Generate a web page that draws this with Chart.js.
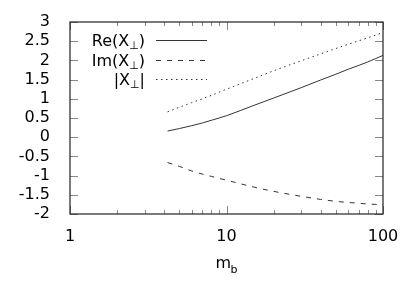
<!DOCTYPE html>
<html>
<head>
<meta charset="utf-8">
<script src="https://cdn.jsdelivr.net/npm/chart.js@4"></script>
<style>
  html, body { margin: 0; padding: 0; background: #fff; }
  #wrap { width: 415px; height: 296px; }
</style>
</head>
<body>
<div id="wrap"><canvas id="chart" width="415" height="296"></canvas></div>
<script>
// m_b values and the three curves
const mb = [4.2, 5, 6, 7, 8, 10, 15, 20, 30, 40, 50, 60, 70, 80, 90, 100];
const reX = [0.16, 0.225, 0.30, 0.37, 0.44, 0.56, 0.83, 1.02, 1.29, 1.49, 1.64, 1.77, 1.87, 1.96, 2.05, 2.13];
const imX = [-0.66, -0.76, -0.88, -0.96, -1.02, -1.12, -1.30, -1.41, -1.54, -1.62, -1.67, -1.70, -1.72, -1.74, -1.75, -1.76];
const absX = [0.66, 0.78, 0.90, 1.00, 1.09, 1.25, 1.53, 1.73, 1.99, 2.17, 2.31, 2.42, 2.51, 2.59, 2.66, 2.73];

const xTickLabels = [1, 10, 100];
const yTicks = [-2, -1.5, -1, -0.5, 0, 0.5, 1, 1.5, 2, 2.5, 3];

const FONT = 'DejaVu Sans';
const lineColor = '#333';

// legend labels split as [before, subscript, after]
const series = [
    { label: ['Re(X', '\u22A5', ')'], values: reX, dash: [] },
    { label: ['Im(X', '\u22A5', ')'], values: imX, dash: [5, 6] },
    { label: ['|X', '\u22A5', '|'], values: absX, dash: [1.5, 3.5] }
];

const toPoints = vals => mb.map((m, i) => ({ x: m, y: vals[i] }));

// border, inward tick marks, legend and axis title, gnuplot style
const framePlugin = {
    id: 'frame',
    afterDraw(chart) {
        const ctx = chart.ctx;
        const a = chart.chartArea;
        const xs = chart.scales.x;
        const ys = chart.scales.y;
        ctx.save();

        ctx.strokeStyle = '#888';
        ctx.lineWidth = 1;
        ctx.beginPath();
        yTicks.forEach(v => {
            const y = Math.round(ys.getPixelForValue(v)) + 0.5;
            ctx.moveTo(a.left, y); ctx.lineTo(a.left + 8, y);
            ctx.moveTo(a.right, y); ctx.lineTo(a.right - 8, y);
        });
        for (let d = 1; d <= 100; d *= 10) {
            for (let k = 1; k <= 9; k++) {
                const v = d * k;
                if (v > 100) break;
                const x = Math.round(xs.getPixelForValue(v)) + 0.5;
                const len = k === 1 ? 8 : 4;
                ctx.moveTo(x, a.bottom); ctx.lineTo(x, a.bottom - len);
                ctx.moveTo(x, a.top); ctx.lineTo(x, a.top + len);
            }
        }
        ctx.stroke();

        ctx.strokeStyle = '#222';
        ctx.lineWidth = 1.2;
        ctx.strokeRect(a.left, a.top, a.right - a.left, a.bottom - a.top);

        // legend, text right aligned with the sample line after it
        ctx.fillStyle = '#000';
        ctx.textBaseline = 'alphabetic';
        ctx.textAlign = 'left';
        const rows = [40, 60, 79];
        const big = '16px "' + FONT + '"';
        const small = '11px "' + FONT + '"';
        series.forEach((s, i) => {
            const [pre, sub, post] = s.label;
            ctx.font = big;
            const w1 = ctx.measureText(pre).width;
            const w3 = ctx.measureText(post).width;
            ctx.font = small;
            const w2 = ctx.measureText(sub).width;
            let x = 145 - (w1 + w2 + w3);
            const base = rows[i] + 6;
            ctx.font = big;
            ctx.fillText(pre, x, base);
            x += w1;
            ctx.font = small;
            ctx.fillText(sub, x, base + 3);
            x += w2;
            ctx.font = big;
            ctx.fillText(post, x, base);

            ctx.strokeStyle = lineColor;
            ctx.lineWidth = 1;
            ctx.setLineDash(s.dash);
            ctx.beginPath();
            ctx.moveTo(156, rows[i] + 0.5);
            ctx.lineTo(207, rows[i] + 0.5);
            ctx.stroke();
        });
        ctx.setLineDash([]);

        // x axis title m_b
        const cx = xs.getPixelForValue(10);
        ctx.font = big;
        ctx.fillText('m', cx - 11, 268);
        ctx.font = '11px "' + FONT + '"';
        ctx.fillText('b', cx + 4, 273);
        ctx.restore();
    }
};

const ctx = document.getElementById('chart').getContext('2d');
const myChart = new Chart(ctx, {
    type: 'line',
    data: {
        datasets: series.map(s => ({
            label: s.label.join(''),
            data: toPoints(s.values),
            borderColor: lineColor,
            borderWidth: 1,
            borderDash: s.dash,
            pointRadius: 0,
            cubicInterpolationMode: 'monotone',
            fill: false
        }))
    },
    options: {
        responsive: false,
        animation: false,
        layout: {
            padding: { top: 22, right: 32, left: 0, bottom: 0 }
        },
        plugins: {
            legend: { display: false },
            tooltip: { enabled: false }
        },
        scales: {
            x: {
                type: 'logarithmic',
                min: 1,
                max: 100,
                grid: { display: false },
                border: { display: false },
                afterBuildTicks: scale => {
                    scale.ticks = xTickLabels.map(v => ({ value: v }));
                },
                afterFit: scale => { scale.height = 82; },
                ticks: {
                    autoSkip: false,
                    maxRotation: 0,
                    padding: 5,
                    color: '#000',
                    font: { family: FONT, size: 16 },
                    callback: v => String(v)
                }
            },
            y: {
                min: -2,
                max: 3,
                grid: { display: false },
                border: { display: false },
                afterBuildTicks: scale => {
                    scale.ticks = yTicks.map(v => ({ value: v }));
                },
                afterFit: scale => { scale.width = 70; },
                ticks: {
                    autoSkip: false,
                    padding: 12,
                    color: '#000',
                    font: { family: FONT, size: 16 },
                    callback: v => String(v)
                }
            }
        }
    },
    plugins: [framePlugin]
});
</script>
</body>
</html>
